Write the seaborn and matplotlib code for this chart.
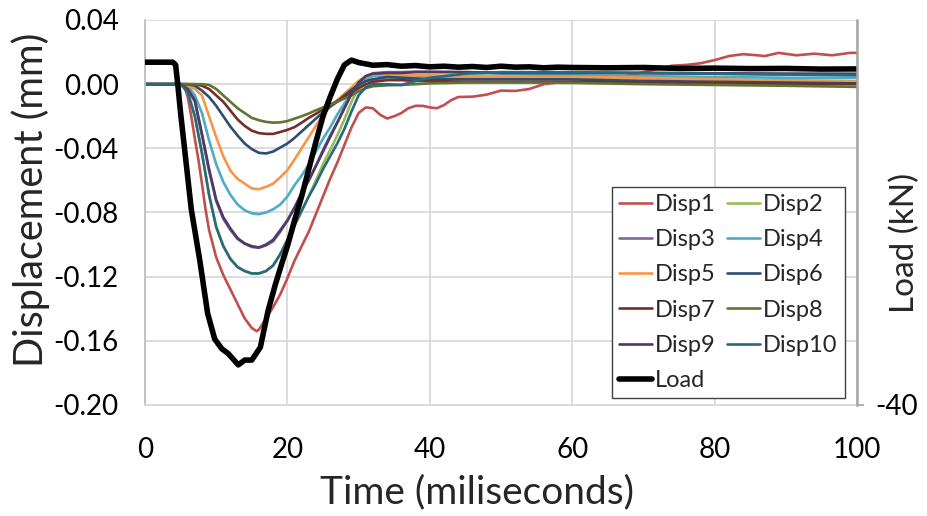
import numpy as np
import pandas as pd
import matplotlib
matplotlib.use("Agg")
import matplotlib.pyplot as plt
import seaborn as sns

# ---------------- data ----------------
time_ms = [0, 4, 5, 6, 7, 8, 9, 10, 11, 12, 13, 14, 15, 16, 17, 18, 19, 20, 21, 22, 23,
           24, 25, 26, 27, 28, 29, 30, 31, 32, 34, 36, 38, 40, 45, 50, 55, 60, 70, 80, 90, 100]

disp2 = [0, 0, 0, -0.005, -0.020, -0.043, -0.069, -0.089, -0.101, -0.109, -0.114, -0.1165, -0.118, -0.118,
         -0.1165, -0.113, -0.106, -0.097, -0.088, -0.079, -0.070, -0.060, -0.050, -0.041, -0.032, -0.022,
         -0.011, -0.002, 0.002, 0.003, 0.003, 0.003, 0.0035, 0.004, 0.0045, 0.0045, 0.004, 0.004, 0.0035,
         0.003, 0.0025, 0.002]
disp3 = [0, 0, 0, -0.003, -0.011, -0.032, -0.054, -0.073, -0.084, -0.091, -0.0965, -0.0995, -0.1015, -0.102,
         -0.1005, -0.098, -0.092, -0.085, -0.077, -0.068, -0.060, -0.051, -0.041, -0.032, -0.024, -0.015,
         -0.006, 0.001, 0.005, 0.0068, 0.0075, 0.0075, 0.0078, 0.0078, 0.0075, 0.0072, 0.007, 0.007, 0.0068,
         0.0065, 0.006, 0.006]
disp4 = [0, 0, 0, -0.001, -0.007, -0.018, -0.035, -0.050, -0.061, -0.069, -0.075, -0.0786, -0.0805, -0.081,
         -0.080, -0.078, -0.075, -0.070, -0.063, -0.057, -0.050, -0.042, -0.034, -0.027, -0.019, -0.012,
         -0.006, -0.001, 0.003, 0.005, 0.0055, 0.005, 0.005, 0.005, 0.005, 0.0055, 0.0055, 0.0055, 0.005,
         0.0045, 0.004, 0.004]
disp5 = [0, 0, 0, -0.001, -0.003, -0.007, -0.020, -0.033, -0.045, -0.054, -0.059, -0.062, -0.065, -0.0655,
         -0.064, -0.062, -0.058, -0.0536, -0.047, -0.040, -0.033, -0.026, -0.019, -0.014, -0.010, -0.006,
         -0.002, 0.002, 0.005, 0.006, 0.006, 0.0055, 0.0055, 0.0055, 0.005, 0.005, 0.0045, 0.0045, 0.004,
         0.003, 0.002, 0.0015]
disp6 = [0, 0, 0, 0, -0.001, -0.004, -0.008, -0.0135, -0.020, -0.0265, -0.032, -0.037, -0.0405, -0.0428,
         -0.0432, -0.042, -0.0395, -0.037, -0.0335, -0.0295, -0.0255, -0.0215, -0.0175, -0.014, -0.011,
         -0.007, -0.0035, -0.0005, 0.0018, 0.003, 0.0045, 0.004, 0.0035, 0.003, 0.003, 0.003, 0.003, 0.003,
         0.002, 0.0015, 0.001, 0.0005]
disp7 = [0, 0, 0, 0, 0, -0.001, -0.003, -0.007, -0.011, -0.0165, -0.022, -0.026, -0.029, -0.0305, -0.031,
         -0.031, -0.0298, -0.0285, -0.0268, -0.024, -0.021, -0.0185, -0.0157, -0.013, -0.0105, -0.008,
         -0.005, -0.0025, -0.0002, 0.0015, 0.0025, 0.0025, 0.002, 0.002, 0.0015, 0.0015, 0.0015, 0.0015,
         0.001, 0.0005, 0.0, 0.0]
disp8 = [0, 0, 0, 0, 0, 0, -0.0005, -0.003, -0.007, -0.011, -0.015, -0.018, -0.021, -0.0225, -0.0235,
         -0.024, -0.0238, -0.023, -0.0215, -0.020, -0.0183, -0.0163, -0.0145, -0.0127, -0.011, -0.009,
         -0.007, -0.0045, -0.0025, -0.0013, -0.0007, -0.0005, 0.0, 0.0005, 0.001, 0.001, 0.001, 0.0008,
         0.0, -0.0005, -0.001, -0.0017]
disp9 = [0, 0, 0, -0.003, -0.010, -0.031, -0.053, -0.072, -0.083, -0.090, -0.096, -0.0993, -0.101, -0.1018,
         -0.100, -0.097, -0.091, -0.085, -0.077, -0.068, -0.060, -0.051, -0.042, -0.033, -0.024, -0.015,
         -0.006, 0.001, 0.005, 0.0065, 0.007, 0.007, 0.0075, 0.0075, 0.0075, 0.007, 0.007, 0.007, 0.007,
         0.0068, 0.0066, 0.0065]
disp10 = [0, 0, 0, -0.005, -0.020, -0.043, -0.069, -0.089, -0.101, -0.109, -0.114, -0.1165, -0.118, -0.118,
          -0.1165, -0.113, -0.106, -0.097, -0.088, -0.079, -0.070, -0.062, -0.053, -0.045, -0.037, -0.028,
          -0.017, -0.007, -0.002, 0.0, 0.0, -0.0005, 0.002, 0.004, 0.0065, 0.0075, 0.0075, 0.0075, 0.007,
          0.0065, 0.006, 0.0055]

time_disp1 = [0, 5, 5.5, 6, 6.5, 7, 7.5, 8, 8.5, 9, 10, 11, 12, 13, 14, 15, 15.7, 16, 17, 18, 19, 20, 21,
              22, 23, 24, 25, 26, 27, 28, 29, 30, 31, 32, 33, 34, 35, 36, 37, 38, 39, 40, 41, 42, 43, 44,
              46, 48, 50, 52, 54, 56, 58, 61, 64, 66, 68, 70, 72, 74, 76, 78, 80, 82, 84, 86, 87, 89, 91.5,
              94, 96.5, 99, 100]
disp1 = [0, 0, -0.001, -0.008, -0.020, -0.034, -0.047, -0.062, -0.078, -0.091, -0.108, -0.119, -0.128,
         -0.137, -0.146, -0.152, -0.154, -0.153, -0.146, -0.139, -0.131, -0.121, -0.110, -0.101, -0.092,
         -0.081, -0.070, -0.059, -0.049, -0.038, -0.027, -0.018, -0.0145, -0.015, -0.019, -0.0214, -0.020,
         -0.018, -0.015, -0.0135, -0.0135, -0.0145, -0.015, -0.013, -0.010, -0.008, -0.0078, -0.0065,
         -0.004, -0.0042, -0.003, 0.000, 0.001, 0.0015, 0.002, 0.0035, 0.0055, 0.0075, 0.0095, 0.0115,
         0.012, 0.013, 0.015, 0.0175, 0.0187, 0.018, 0.0175, 0.0195, 0.018, 0.019, 0.018, 0.0195, 0.0195]

time_load = [0, 3.9, 4.3, 4.6, 5.0, 5.8, 6.5, 7.7, 8.8, 9.8, 10.8, 11.7, 13.1, 14.0, 15.0, 16.2, 17.3,
             18.3, 19.2, 20, 21, 22, 23, 24, 25, 26, 27, 28, 29, 30, 32, 34, 36, 38, 40, 42, 44, 46, 48,
             50, 52, 54, 56, 58, 60, 65, 70, 75, 80, 85, 90, 95, 100]
load_kn = [2.74, 2.74, 2.4, 0.0, -3.6, -10.0, -15.6, -22.0, -28.6, -31.8, -33.0, -33.6, -35.0, -34.4,
           -34.4, -32.8, -28.2, -25.0, -22.4, -20.2, -17.0, -14.0, -10.6, -7.2, -4.0, -1.6, 0.6, 2.4, 3.0,
           2.7, 2.36, 2.44, 2.24, 2.32, 2.16, 2.24, 2.12, 2.2, 2.08, 2.24, 2.12, 2.16, 2.04, 2.12, 2.08,
           2.04, 2.08, 1.96, 2.0, 1.94, 1.96, 1.88, 1.9]

series_names = ["Disp1", "Disp2", "Disp3", "Disp4", "Disp5", "Disp6", "Disp7", "Disp8", "Disp9", "Disp10"]
series_colors = ["#C0504D", "#9BBB59", "#8064A2", "#4BACC6", "#F79646",
                 "#2C4D75", "#772C2A", "#5F7530", "#4D3B62", "#276A7C"]
x_ticks = [0, 20, 40, 60, 80, 100]
y_ticks = [-0.20, -0.16, -0.12, -0.08, -0.04, 0.00, 0.04]

# ---------------- plot ----------------
sns.set_theme(style="white")
plt.rcParams["font.family"] = ["Lato", "DejaVu Sans"]

fig = plt.figure(figsize=(9.28, 5.16), dpi=100)
ax = fig.add_axes([145 / 928, 1 - 405 / 516, (857 - 145) / 928, (405 - 20) / 516])

disp_values = [disp1, disp2, disp3, disp4, disp5, disp6, disp7, disp8, disp9, disp10]
for name, vals, col in zip(series_names, disp_values, series_colors):
    t = time_disp1 if name == "Disp1" else time_ms
    df = pd.DataFrame({"t": t, "v": vals})
    sns.lineplot(data=df, x="t", y="v", color=col, linewidth=1.9, ax=ax, label=name, legend=False)

ax2 = ax.twinx()
df_load = pd.DataFrame({"t": time_load, "v": load_kn})
sns.lineplot(data=df_load, x="t", y="v", color="black", linewidth=4.0, ax=ax2, label="Load", legend=False)

ax.set_xlim(0, 100)
ax.set_ylim(-0.20, 0.04)
ax2.set_ylim(-40, 8)
ax.set_xticks(x_ticks)
ax.set_xticklabels([str(v) for v in x_ticks])
ax.set_yticks(y_ticks)
ax.set_yticklabels([f"{v:.2f}" for v in y_ticks])
ax2.set_yticks([-40])
ax2.set_yticklabels(["-40"])

ax.grid(True, color="#D9D9D9", linewidth=1.3)
ax2.grid(False)
ax.spines["top"].set_visible(False)
ax2.spines["top"].set_visible(False)
ax.spines["left"].set_color("#BFBFBF")
ax.spines["left"].set_linewidth(1.3)
ax.spines["bottom"].set_color("#D9D9D9")
ax.spines["bottom"].set_linewidth(1.3)
ax2.spines["left"].set_visible(False)
ax2.spines["bottom"].set_visible(False)
ax2.spines["right"].set_color("#A6A6A6")
ax2.spines["right"].set_linewidth(1.8)
ax.spines["right"].set_visible(False)

ax.tick_params(axis="y", length=0, pad=19, labelsize=20, colors="black")
ax.tick_params(axis="x", length=3, pad=20, labelsize=20, labelcolor="black", color="#D9D9D9")
ax2.tick_params(axis="y", length=5, color="#A6A6A6", pad=8, labelsize=20, labelcolor="black")

ax.set_xlabel("Time (miliseconds)", fontsize=28)
ax.set_ylabel("Displacement (mm)", fontsize=28.5)
ax2.set_ylabel("Load (kN)", fontsize=24)
ax.xaxis.set_label_coords((477 - 145) / 712, -(474 - 405) / 385)
ax.yaxis.set_label_coords(-(145 - 50) / 712, (405 - 200) / 385)
ax2.yaxis.set_label_coords(1 + (890 - 857) / 712, (405 - 243) / 385)

# legend (row-wise order as in reference)
h1, l1 = ax.get_legend_handles_labels()
h2, l2 = ax2.get_legend_handles_labels()
hmap = dict(zip(l1 + l2, h1 + h2))
order = ["Disp1", "Disp3", "Disp5", "Disp7", "Disp9", "Load",
         "Disp2", "Disp4", "Disp6", "Disp8", "Disp10"]
leg = ax2.legend([hmap[k] for k in order], order, ncol=2, loc="lower right",
                 bbox_to_anchor=(0.983, 0.018), fontsize=17, frameon=True, fancybox=False,
                 edgecolor="#404040", framealpha=1, handlelength=1.4, handletextpad=0.15,
                 columnspacing=0.45, labelspacing=0.6, borderpad=0.3, borderaxespad=0)
leg.get_frame().set_linewidth(1.0)

fig.savefig("out.png", dpi=100)
